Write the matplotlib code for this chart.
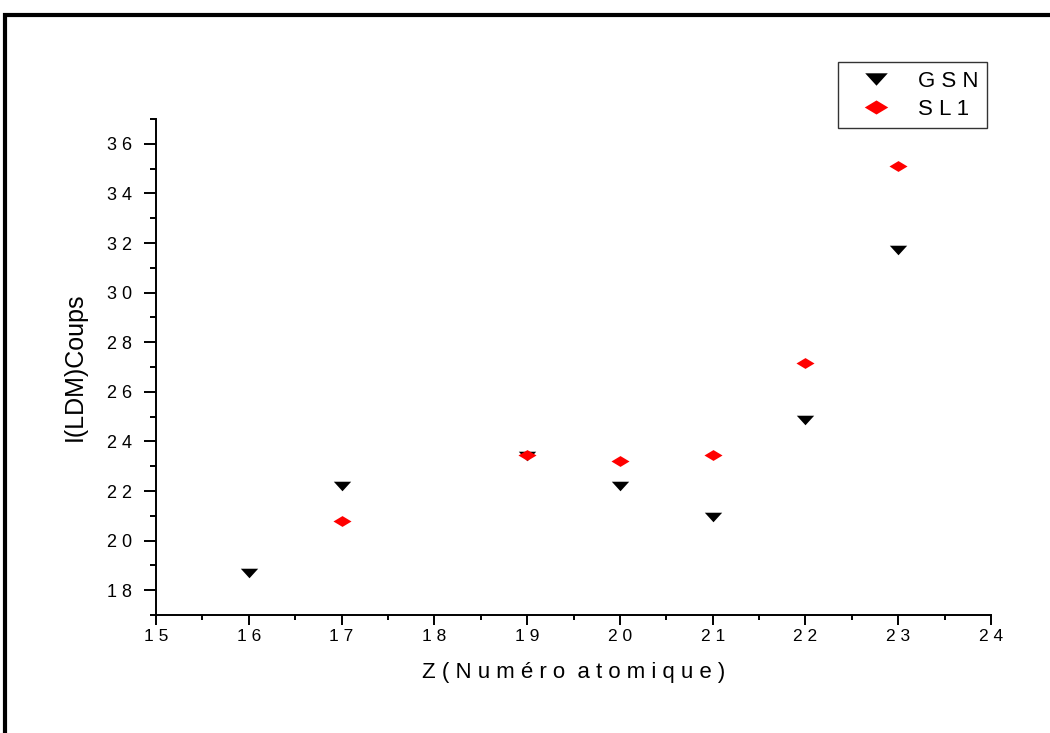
import matplotlib.pyplot as plt
from matplotlib.patches import Rectangle
from matplotlib.ticker import MultipleLocator, FixedLocator

plt.rcParams['font.family'] = ['Liberation Sans', 'DejaVu Sans']

z = [16, 17, 19, 20, 21, 22, 23]
gsn = [18.7, 22.2, 23.4, 22.2, 20.95, 24.85, 31.7]
z_sl1 = [17, 19, 20, 21, 22, 23]
sl1 = [20.8, 23.45, 23.22, 23.45, 27.15, 35.1]

x_ticks = [15, 16, 17, 18, 19, 20, 21, 22, 23, 24]
y_ticks = [18, 20, 22, 24, 26, 28, 30, 32, 34, 36]


def spaced(s, sep=" "):
    return sep.join(s)


# flattened markers
tri_down = [(-1, 0.55), (1, 0.55), (0, -0.55)]
diamond = [(-1, 0), (0, 0.6), (1, 0), (0, -0.6)]

fig = plt.figure(figsize=(10.5, 7.33), dpi=100)
ax = fig.add_axes([156 / 1050, 1 - 615 / 733, (991 - 156) / 1050, (615 - 119) / 733])

ax.plot(z, gsn, linestyle='none', marker=tri_down, markersize=12.5,
        color='black', markeredgewidth=0, label="G S N")
ax.plot(z_sl1, sl1, linestyle='none', marker=diamond, markersize=13,
        color='#ff0000', markeredgewidth=0, label="S L 1")

ax.set_xlim(15, 24)
ax.set_ylim(17, 37)

ax.xaxis.set_major_locator(FixedLocator(x_ticks))
ax.set_xticklabels([spaced(str(t)) for t in x_ticks])
ax.xaxis.set_minor_locator(MultipleLocator(0.5))
ax.yaxis.set_major_locator(FixedLocator(y_ticks))
ax.set_yticklabels([spaced(str(t)) for t in y_ticks])
ax.yaxis.set_minor_locator(MultipleLocator(1))

ax.tick_params(which='both', direction='out', width=1.4)
ax.tick_params(axis='x', which='major', length=7, pad=3, labelsize=12.5)
ax.tick_params(axis='x', which='minor', length=3.5)
ax.tick_params(axis='y', which='major', length=9, pad=8, labelsize=13)
ax.tick_params(axis='y', which='minor', length=4.5)

for side in ['top', 'right']:
    ax.spines[side].set_visible(False)
for side in ['left', 'bottom']:
    ax.spines[side].set_linewidth(1.4)

ax.set_xlabel("Z ( N u m é r o  a t o m i q u e )", fontsize=16, labelpad=13)
ax.set_ylabel("I(LDM)Coups", fontsize=18, labelpad=15)

leg = ax.legend(loc='upper left', bbox_to_anchor=(838 / 1050, 1 - 62 / 733),
                bbox_transform=fig.transFigure, fontsize=16, markerscale=1.3,
                frameon=True, fancybox=False, edgecolor='black',
                borderpad=0.4, handletextpad=0.6, labelspacing=0.3,
                handlelength=2.6, borderaxespad=0)
leg.get_frame().set_linewidth(1.0)

# outer frame around the figure
fig.patches.append(Rectangle((5 / 1050, -0.2), 1.2, 1.2 - 15 / 733,
                             transform=fig.transFigure, fill=False,
                             edgecolor='black', linewidth=3))

fig.savefig("out.png", dpi=100)
